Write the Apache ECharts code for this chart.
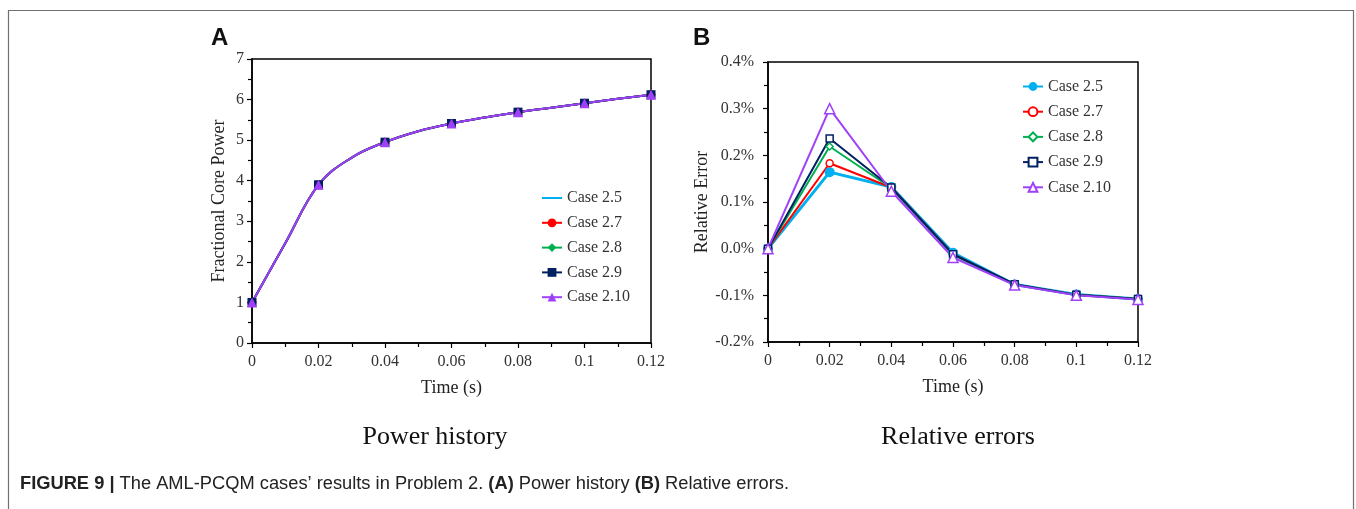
<!DOCTYPE html>
<html>
<head>
<meta charset="utf-8">
<script src="https://cdn.jsdelivr.net/npm/echarts@6/dist/echarts.min.js"></script>
<style>
    html, body { margin: 0; padding: 0; background: #fff; }
    #chart { width: 1356px; height: 509px; }
</style>
</head>
<body>
<div id="chart"></div>
<script>
// 数据
const caseNames = ['Case 2.5', 'Case 2.7', 'Case 2.8', 'Case 2.9', 'Case 2.10'];
const caseColors = ['#00b0f0', '#ff0000', '#00b050', '#002060', '#a040f8'];

// A: 功率历史 (所有工况几乎重合)
const powerTime = [0, 0.01, 0.02, 0.03, 0.04, 0.05, 0.06, 0.07, 0.08, 0.09, 0.1, 0.11, 0.12];
const powerHistory = [1.0, 2.46, 3.9, 4.57, 4.95, 5.22, 5.41, 5.56, 5.69, 5.8, 5.91, 6.02, 6.12];
const powerSymbols = ['none', 'circle', 'diamond', 'rect', 'triangle'];

// B: 相对误差 (%)
const errorTime = [0, 0.02, 0.04, 0.06, 0.08, 0.1, 0.12];
const errCase25 = [0, 0.164, 0.132, -0.009, -0.077, -0.098, -0.108];
const errCase27 = [0, 0.183, 0.131, -0.012, -0.077, -0.099, -0.108];
const errCase28 = [0, 0.219, 0.130, -0.013, -0.077, -0.099, -0.108];
const errCase29 = [0, 0.236, 0.131, -0.012, -0.076, -0.099, -0.108];
const errCase210 = [0, 0.300, 0.123, -0.019, -0.078, -0.100, -0.109];
const errorSeries = [errCase25, errCase27, errCase28, errCase29, errCase210];
const errorSymbols = ['circle', 'circle', 'diamond', 'rect', 'triangle'];

const serif = 'Liberation Serif, Times New Roman, serif';
const sans = 'Liberation Sans, Arial, sans-serif';

function xAxisOpt(gridIndex) {
    return {
        type: 'value', gridIndex: gridIndex,
        min: 0, max: 0.12, interval: 0.02,
        name: 'Time (s)', nameLocation: 'middle', nameGap: 36,
        nameTextStyle: { fontFamily: serif, fontSize: 18, color: '#222' },
        axisLine: { show: true, onZero: false, lineStyle: { color: '#000', width: 1.5 } },
        axisTick: { show: true, inside: false, length: 5, lineStyle: { color: '#000', width: 1.2 } },
        minorTick: { show: true, splitNumber: 2, length: 4, lineStyle: { color: '#000', width: 1.2 } },
        splitLine: { show: false },
        axisLabel: {
            margin: 11, fontFamily: serif, fontSize: 16, color: '#333',
            formatter: v => String(+v.toFixed(2))
        }
    };
}

function yAxisOpt(gridIndex, extra) {
    return Object.assign({
        type: 'value', gridIndex: gridIndex,
        nameLocation: 'middle',
        nameTextStyle: { fontFamily: serif, fontSize: 18, color: '#222' },
        axisLine: { show: true, onZero: false, lineStyle: { color: '#000', width: 1.5 } },
        axisTick: { show: true, inside: false, length: 5, lineStyle: { color: '#000', width: 1.2 } },
        minorTick: { show: true, splitNumber: 2, length: 4, lineStyle: { color: '#000', width: 1.2 } },
        splitLine: { show: false }
    }, extra);
}

const powerSeries = caseNames.map((name, i) => ({
    name: name,
    type: 'line',
    xAxisIndex: 0, yAxisIndex: 0,
    smooth: 0.4,
    symbol: powerSymbols[i],
    symbolSize: i === 4 ? 10 : 9,
    showAllSymbol: true,
    lineStyle: { color: caseColors[i], width: 2 },
    itemStyle: { color: caseColors[i] },
    data: powerTime.map((t, k) => k % 2 === 0
        ? [t, powerHistory[k]]
        : { value: [t, powerHistory[k]], symbol: 'none' })
}));

const errSeries = caseNames.map((name, i) => ({
    name: name + ' ',
    type: 'line',
    xAxisIndex: 1, yAxisIndex: 1,
    symbol: errorSymbols[i],
    symbolSize: i === 0 ? 10 : (i === 4 ? 10 : 7),
    showAllSymbol: true,
    lineStyle: { color: caseColors[i], width: i === 0 ? 3 : 2 },
    itemStyle: i === 0
        ? { color: caseColors[i] }
        : { color: '#fff', borderColor: caseColors[i], borderWidth: 1.5 },
    data: errorTime.map((t, k) => [t, errorSeries[i][k]])
}));

const legendText = { fontFamily: serif, fontSize: 16, color: '#333' };

const option = {
    backgroundColor: '#fff',
    animation: false,
    grid: [
        { left: 252, top: 59, width: 399, height: 284, show: true, borderColor: '#000', borderWidth: 1.5, backgroundColor: 'transparent' },
        { left: 768, top: 62, width: 370, height: 280, show: true, borderColor: '#000', borderWidth: 1.5, backgroundColor: 'transparent' }
    ],
    xAxis: [xAxisOpt(0), xAxisOpt(1)],
    yAxis: [
        yAxisOpt(0, {
            min: 0, max: 7, interval: 1,
            name: 'Fractional Core Power', nameGap: 24,
            axisLabel: { margin: 8, fontFamily: serif, fontSize: 16, color: '#333' }
        }),
        yAxisOpt(1, {
            min: -0.2, max: 0.4, interval: 0.1,
            name: 'Relative Error', nameGap: 52,
            axisLabel: {
                margin: 14, fontFamily: serif, fontSize: 16, color: '#333',
                formatter: v => v.toFixed(1) + '%'
            }
        })
    ],
    legend: [
        {
            data: caseNames.map((n, i) => i === 0 ? { name: n, itemStyle: { opacity: 0 } } : n),
            orient: 'vertical', left: 541, top: 190, padding: 0,
            itemWidth: 20, itemHeight: 11, itemGap: 8.8,
            textStyle: legendText
        },
        {
            data: caseNames.map(n => n + ' '),
            orient: 'vertical', left: 1022, top: 78.5, padding: 0,
            itemWidth: 20, itemHeight: 11, itemGap: 9.2,
            textStyle: legendText,
            formatter: n => n.trim()
        }
    ],
    graphic: [
        { type: 'rect', shape: { x: 8.5, y: 10.5, width: 1345, height: 520 }, style: { fill: 'none', stroke: '#707070', lineWidth: 1.2 }, silent: true },
        { type: 'text', left: 211, top: 26, style: { text: 'A', font: 'bold 24px ' + sans, fill: '#111' } },
        { type: 'text', left: 693, top: 26, style: { text: 'B', font: 'bold 24px ' + sans, fill: '#111' } },
        { type: 'text', x: 435, y: 437, style: { text: 'Power history', font: '26px ' + serif, fill: '#111', align: 'center', verticalAlign: 'middle' } },
        { type: 'text', x: 958, y: 437, style: { text: 'Relative errors', font: '26px ' + serif, fill: '#111', align: 'center', verticalAlign: 'middle' } },
        {
            type: 'text', x: 20, y: 484,
            style: {
                text: '{b|FIGURE 9 |} The AML-PCQM cases\u2019 results in Problem 2. {b|(A)} Power history {b|(B)} Relative errors.',
                font: '18.3px ' + sans, fill: '#222', verticalAlign: 'middle',
                rich: { b: { font: 'bold 18.3px ' + sans, fill: '#222' } }
            }
        }
    ],
    series: powerSeries.concat(errSeries)
};

const myChart = echarts.init(document.getElementById('chart'), null, { renderer: 'canvas' });
myChart.setOption(option);
</script>
</body>
</html>
